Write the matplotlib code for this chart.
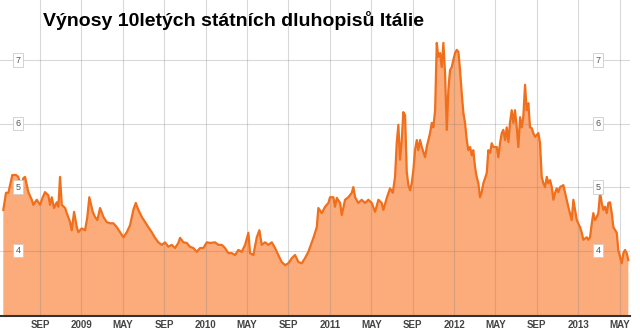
import matplotlib.pyplot as plt
import numpy as np

# months counted from Jan 2008 (month 12 = Jan 2009)
months = [4.45, 4.71, 4.94, 5.17, 5.32, 5.68, 5.90, 6.14, 6.39, 6.55, 6.87, 7.20, 7.35, 7.68,
          8.00, 8.26, 8.48, 8.80, 8.97, 9.13, 9.35, 9.61, 9.77, 9.93, 10.10, 10.42, 10.58, 10.90,
          11.06, 11.29, 11.55, 11.70, 12.03, 12.35, 12.57, 12.76, 13.09, 13.31, 13.54, 13.80,
          14.12, 14.44, 14.76, 15.08, 15.41, 15.73, 16.05, 16.38, 16.70, 17.01, 17.25, 17.50,
          17.83, 18.14, 18.46, 18.79, 19.11, 19.43, 19.76, 20.08, 20.40, 20.72, 21.04, 21.36,
          21.53, 21.85, 22.17, 22.49, 22.81, 23.14, 23.46, 23.78, 24.11, 24.43, 24.91, 25.23,
          25.56, 25.87, 26.19, 26.52, 26.84, 27.16, 27.49, 27.81, 28.13, 28.29, 28.61, 28.94,
          29.19, 29.42, 29.74, 30.06, 30.39, 30.71, 31.02, 31.35, 31.67, 31.99, 32.32, 32.64,
          32.96, 33.28, 33.60, 33.92, 34.41, 34.74, 34.89, 35.22, 35.54, 35.86, 36.02, 36.34,
          36.50, 36.67, 36.99, 37.15, 37.47, 37.79, 38.12, 38.27, 38.44, 38.75, 39.08, 39.40,
          39.72, 40.05, 40.37, 40.69, 41.01, 41.17, 41.50, 41.82, 42.08, 42.30, 42.46, 42.62,
          42.78, 42.95, 43.10, 43.27, 43.43, 43.59, 43.75, 43.91, 44.07, 44.23, 44.40, 44.55,
          44.72, 44.88, 45.20, 45.36, 45.68, 45.85, 46.00, 46.17, 46.33, 46.48, 46.65, 46.81,
          46.97, 47.13, 47.30, 47.45, 47.61, 47.78, 47.93, 48.10, 48.26, 48.42, 48.58, 48.74,
          48.90, 49.06, 49.23, 49.38, 49.55, 49.71, 49.86, 50.03, 50.19, 50.35, 50.51, 50.67,
          50.83, 51.16, 51.31, 51.48, 51.64, 51.80, 52.13, 52.28, 52.44, 52.61, 52.76, 52.93,
          53.09, 53.25, 53.41, 53.57, 53.73, 53.89, 54.06, 54.21, 54.38, 54.54, 54.69, 54.86,
          55.02, 55.18, 55.34, 55.50, 55.66, 55.83, 55.99, 56.15, 56.31, 56.47, 56.63, 56.79,
          56.96, 57.11, 57.28, 57.44, 57.60, 57.76, 57.92, 58.08, 58.24, 58.56, 58.73, 59.04,
          59.37, 59.53, 59.69, 59.86, 60.17, 60.34, 60.49, 60.82, 60.98, 61.14, 61.31, 61.46,
          61.62, 61.79, 61.94, 62.11, 62.27, 62.43, 62.59, 62.75, 62.91, 63.07, 63.24, 63.39,
          63.72, 63.87, 64.04, 64.20, 64.36, 64.52, 64.68, 64.84]

yields = [4.64, 4.91, 4.91, 5.08, 5.19, 5.19, 5.16, 5.00, 5.14, 5.16, 4.92, 4.80, 4.72, 4.80,
          4.72, 4.84, 4.92, 4.87, 4.72, 4.84, 4.67, 4.76, 4.69, 5.16, 4.72, 4.67, 4.59, 4.45,
          4.32, 4.61, 4.37, 4.29, 4.35, 4.32, 4.53, 4.84, 4.61, 4.53, 4.48, 4.67,
          4.53, 4.45, 4.43, 4.43, 4.37, 4.29, 4.21, 4.29, 4.40, 4.64, 4.75, 4.64,
          4.53, 4.45, 4.37, 4.29, 4.20, 4.13, 4.09, 4.13, 4.06, 4.09, 4.04, 4.12,
          4.20, 4.13, 4.12, 4.06, 4.04, 3.98, 4.04, 4.04, 4.13, 4.12, 4.13, 4.09,
          4.09, 4.04, 3.96, 3.96, 3.93, 4.01, 3.98, 4.09, 4.28, 3.96, 3.93, 4.21,
          4.32, 4.09, 4.13, 4.09, 4.13, 4.04, 3.93, 3.82, 3.77, 3.80, 3.88, 3.93,
          3.82, 3.80, 3.88, 3.98, 4.20, 4.37, 4.67, 4.59, 4.69, 4.75, 4.84, 4.84,
          4.69, 4.83, 4.75, 4.56, 4.80, 4.84, 4.91, 5.00, 4.84, 4.75, 4.80, 4.75,
          4.80, 4.75, 4.61, 4.80, 4.75, 4.64, 4.83, 4.98, 4.91, 5.16, 5.69, 5.98,
          5.43, 5.74, 6.18, 6.13, 5.24, 5.03, 4.95, 5.06, 5.27, 5.58, 5.74, 5.58,
          5.74, 5.63, 5.47, 5.63, 5.85, 6.01, 5.94, 6.21, 7.27, 7.05, 7.11, 6.89,
          7.27, 6.80, 5.90, 6.53, 6.84, 6.89, 7.00, 7.11, 7.16, 7.13, 6.84, 6.48,
          6.17, 6.01, 5.74, 5.58, 5.63, 5.50, 5.58, 5.31, 5.16, 5.06, 4.84, 4.92,
          5.06, 5.22, 5.58, 5.54, 5.69, 5.63, 5.63, 5.47, 5.69, 5.85, 5.90, 5.74,
          5.94, 5.71, 6.02, 6.21, 6.01, 6.21, 5.94, 5.63, 6.10, 5.94, 6.10, 6.61,
          6.21, 6.32, 5.94, 5.93, 5.85, 5.79, 5.82, 5.85, 5.69, 5.16, 5.06, 5.00,
          5.16, 5.06, 5.11, 5.00, 4.80, 4.91, 4.98, 4.92, 5.00, 5.03, 4.91, 4.69,
          4.48, 4.80, 4.64, 4.48, 4.37, 4.28, 4.17, 4.21, 4.17, 4.21, 4.43, 4.59,
          4.48, 4.53, 4.59, 4.91, 4.75, 4.64, 4.69, 4.59, 4.75, 4.76, 4.59, 4.37,
          4.28, 4.01, 3.90, 3.80, 3.96, 4.01, 3.96, 3.85]

tick_months = [8, 12, 16, 20, 24, 28, 32, 36, 40, 44, 48, 52, 56, 60, 64]
tick_labels = ['SEP', '2009', 'MAY', 'SEP', '2010', 'MAY', 'SEP', '2011', 'MAY',
               'SEP', '2012', 'MAY', 'SEP', '2013', 'MAY']
y_levels = [4, 5, 6, 7]

title = 'Výnosy 10letých státních dluhopisů Itálie'

plt.rcParams['font.family'] = ['Liberation Sans', 'DejaVu Sans']

fig = plt.figure(figsize=(6.4, 3.3), dpi=100)
ax = fig.add_axes([0.0, 14 / 330, 630 / 640, 316 / 330])

ax.fill_between(months, yields, 2.0, color='#fcab7a', lw=0, zorder=1)
ax.plot(months, yields, color='#f06f1c', lw=1.6, zorder=3)

ax.set_xlim(4.13, 65.0)
ax.set_ylim(2.97, 7.945)

# grid drawn over the fill so it shows through faintly
for m in tick_months:
    ax.axvline(m, color='#808080', alpha=0.3, lw=0.8, zorder=2)
for v in y_levels:
    ax.axhline(v, color='#808080', alpha=0.3, lw=0.8, zorder=2)

ax.set_xticks(tick_months)
ax.set_xticklabels(tick_labels, fontsize=7, fontweight='bold', color='#444444')
ax.tick_params(axis='x', length=0, pad=3)
ax.set_yticks([])

for s in ['left', 'right', 'top']:
    ax.spines[s].set_visible(False)
ax.spines['bottom'].set_color('#333333')
ax.spines['bottom'].set_linewidth(1.5)
ax.spines['bottom'].set_zorder(5)

box = dict(boxstyle='square,pad=0.25', fc='white', ec='#cccccc', lw=0.6)
trans = ax.get_yaxis_transform()
for v in y_levels:
    ax.text(18 / 630, v, str(v), transform=trans, ha='center', va='center',
            fontsize=6.5, color='#555555', bbox=box, zorder=6)
    ax.text(598 / 630, v, str(v), transform=trans, ha='center', va='center',
            fontsize=6.5, color='#555555', bbox=box, zorder=6)

fig.text(43 / 640, 1 - 20 / 330, title, fontsize=14, fontweight='bold',
         color='black', ha='left', va='center')

fig.savefig('out.png', dpi=100)
